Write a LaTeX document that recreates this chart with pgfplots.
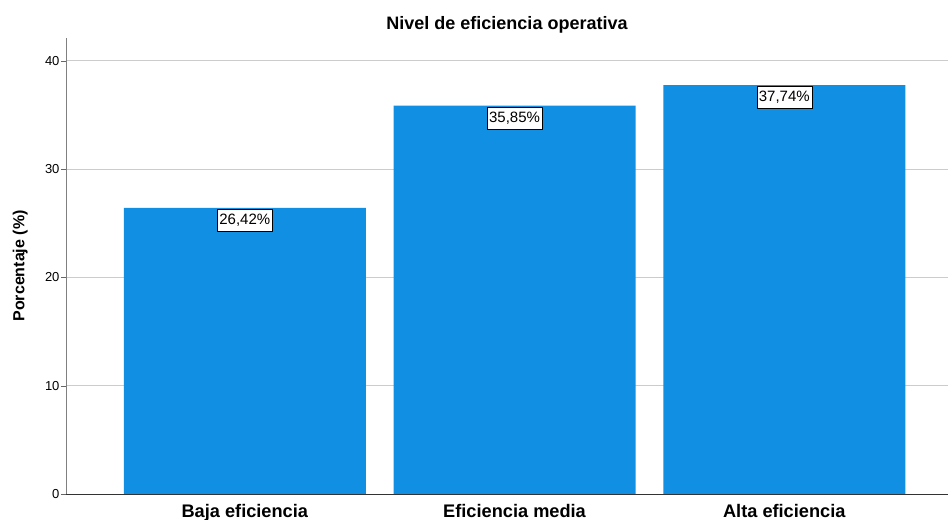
\documentclass[border=0pt]{standalone}
\usepackage{fontspec}
\setmainfont{Liberation Sans}
\usepackage{pgfplots}
\pgfplotsset{compat=1.18}
\definecolor{barblue}{HTML}{1190E3}
\begin{document}
\begin{tikzpicture}
\begin{axis}[
  name=ax,
  scale only axis,
  width=882pt, height=456pt,
  xmin=-0.663, xmax=2.607,
  ymin=0, ymax=42.1,
  axis x line=bottom, axis y line=left,
  axis line style={-},
  x axis line style={draw=black!80},
  y axis line style={draw=black!50},
  xtick={0,1,2},
  xticklabels={Baja eficiencia, Eficiencia media, Alta eficiencia},
  x tick label style={font=\fontsize{18.2}{20}\selectfont\bfseries, yshift=-1.5pt},
  major x tick style={draw=none},
  ytick={0,10,20,30,40},
  y tick label style={font=\fontsize{13}{15}\selectfont, xshift=2pt},
  /pgf/number format/assume math mode=true,
  ytick style={draw=black!60},
  tick align=outside,
  major tick length=5pt,
  ymajorgrids,
  grid style={draw=black!20, line width=0.8pt},
  ylabel={Porcentaje (\%)},
  every axis y label/.style={at={(axis description cs:-0.052,0.5)}, rotate=90, anchor=center, font=\fontsize{16}{18}\selectfont\bfseries},
  title={Nivel de eficiencia operativa},
  title style={font=\fontsize{18}{20}\selectfont\bfseries, yshift=-5pt},
  ybar, bar width=242pt,
  nodes near coords={\pgfmathprintnumber[fixed,fixed zerofill,precision=2,use comma]{\pgfplotspointmeta}\%},
  every node near coord/.style={anchor=north, yshift=-1pt, fill=white, draw=black, inner xsep=2pt, inner ysep=0pt, minimum height=22pt, font=\fontsize{15}{17}\selectfont},
]
\addplot[fill=barblue, draw=none] coordinates {(0,26.42) (1,35.85) (2,37.74)};
\end{axis}
\pgfresetboundingbox
\path[use as bounding box] ([xshift=-66pt,yshift=-26pt]ax.south west) rectangle ([yshift=38pt]ax.north east);
\end{tikzpicture}
\end{document}
